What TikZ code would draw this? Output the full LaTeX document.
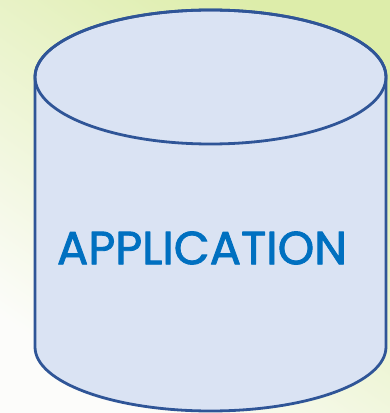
\documentclass[tikz,border=0pt]{standalone}
\usepackage{fontspec}
\setmainfont{Poppins}
\newfontfamily\appfont[FakeBold=1.8]{Poppins}
\usepackage{xcolor}
\definecolor{cylLine}{HTML}{2F5597}
\definecolor{cylFill}{HTML}{DAE3F3}
\definecolor{appBlue}{HTML}{0070C0}
\definecolor{bgGreen}{HTML}{DDEDAA}
\definecolor{bgWhite}{HTML}{FCFCFA}

\begin{document}
\begin{tikzpicture}[x=1pt,y=1pt,line join=round]
\useasboundingbox (0,0) rectangle (390,413);
\shade[shading=axis,top color=bgGreen,bottom color=bgWhite,shading angle=-35] (0,0) rectangle (390,413);
% cylinder body
\filldraw[draw=cylLine,fill=cylFill,line width=2.8pt]
  (35,336) -- (35,66) arc[start angle=180,end angle=360,x radius=175.5,y radius=64]
  -- (386,336) arc[start angle=0,end angle=180,x radius=175.5,y radius=67] -- cycle;
% lid
\draw[cylLine,line width=2.8pt] (210.5,336) ellipse[x radius=175.5,y radius=67];
\node[text=appBlue,font=\fontsize{44}{50}\appfont,inner sep=0pt] (app) at (202,165) {\resizebox{290pt}{!}{APPLICATION}};
\end{tikzpicture}
\end{document}
